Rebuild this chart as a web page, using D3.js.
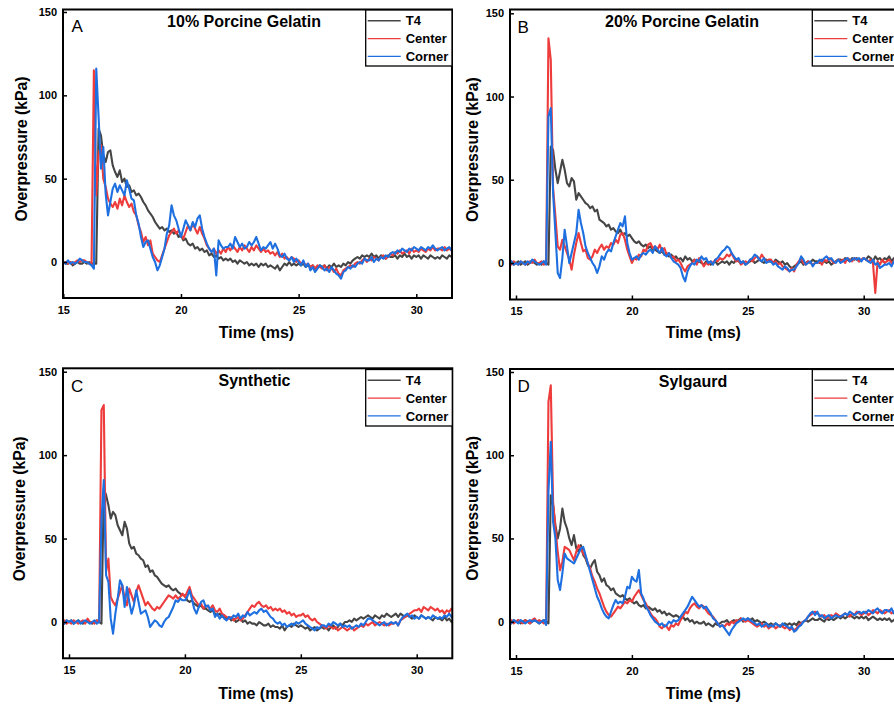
<!DOCTYPE html>
<html><head><meta charset="utf-8">
<script src="https://cdn.jsdelivr.net/npm/d3@7"></script>
<style>
body{margin:0;background:#fff}
svg{display:block}
text{font-family:"Liberation Sans",Arial,Helvetica,sans-serif}
</style>
</head><body>
<svg id="chart" width="894" height="705"></svg>
<script>
// time grid: t = tStart + i*tStep (ms)
const tStart = 14.7, tStep = 0.1;
const seriesNames = ["T4", "Center", "Corner"];
const xTickValues = [15, 20, 25, 30];
const yTickValues = [0, 50, 100, 150];

// Panel A: 10% Porcine Gelatin
const aT4 = [-1,0,-1,
0,-1,-1,0,-2,-1,0,-1,-1,0,
-1,0,-1,-1,-1,80,76,64,60,66,
67,58,54,51,55,48,50,45,46,42,
43,40,41,39,36,34,31,29,27,24,
22,20,21,19,20,18,19,17,18,15,
16,13,14,11,10,11,8,9,7,8,
6,7,4,5,3,4,2,3,1,2,
1,2,0,1,-1,1,0,-1,0,-2,
-1,-2,-1,-3,-1,-2,-1,-3,-2,-3,
-4,-2,-5,-3,-1,-2,0,-2,-1,-2,
-1,-2,-1,-3,-2,-3,-2,-4,-3,-2,
-3,-2,-4,-2,-3,-1,-3,-2,-3,-1,
-2,0,-1,1,2,3,2,4,3,4,
3,5,3,4,2,4,3,2,4,3,
3,4,2,4,3,5,3,4,2,4,
3,4,2,4,3,2,4,3,2,3,
2,4,3,2,4,3,3];
const aCenter = [0,-1,0,
-1,0,-1,0,-1,0,1,0,1,1,
0,-1,-1,115,40,65,70,50,45,38,
35,33,36,32,38,34,40,36,33,35,
30,28,22,18,12,15,10,13,5,3,
1,0,4,8,12,16,18,20,17,19,
16,14,18,22,19,23,20,17,21,17,
14,10,8,6,8,5,7,5,8,6,
9,7,10,8,6,9,7,10,8,6,
9,7,10,8,6,8,6,7,5,6,
4,6,3,5,2,3,1,3,2,0,
1,-1,0,-2,-1,-3,-2,-4,-2,-3,
-4,-2,-5,-3,-4,-6,-4,-7,-8,-5,
-4,-3,-2,-3,-1,0,-1,1,2,0,
2,1,3,2,1,3,4,2,3,5,
4,6,5,7,5,6,7,5,8,6,
7,6,8,7,6,8,7,9,7,8,
8,7,9,7,8,7,6];
const aCorner = [1,-1,0,
0,-1,1,-1,0,-1,0,2,1,0,
0,-1,-2,-4,116,87,56,69,41,28,
36,44,47,42,46,43,40,49,44,38,
37,28,23,15,9,12,13,8,3,0,
-5,-2,3,8,17,22,34,28,25,20,
15,20,25,22,19,24,21,26,28,20,
15,11,8,6,8,-8,13,10,8,9,
9,11,8,15,12,9,11,8,9,12,
10,12,15,11,7,9,8,10,12,8,
11,8,4,3,5,2,1,3,0,2,
0,-2,1,-3,-1,-5,-3,-6,-4,-2,
-3,-5,-4,-6,-3,-5,-7,-8,-10,-6,
-5,-3,-4,-2,-3,-1,0,-1,2,1,
1,3,0,2,1,3,2,4,3,5,
6,5,7,6,8,7,6,8,7,9,
8,7,9,8,7,9,8,10,8,7,
8,9,7,8,9,7,8];

// Panel B: 20% Porcine Gelatin
const bT4 = [0,1,-1,
0,1,-1,0,1,-1,0,1,0,-1,
0,-1,1,0,-1,70,68,56,48,55,
62,56,48,46,51,49,38,42,40,38,
36,35,33,34,31,32,26,25,24,22,
23,20,21,19,18,20,17,18,16,17,
15,13,12,13,11,10,11,9,10,8,
8,7,6,7,5,6,4,5,3,4,
2,3,1,4,2,3,1,2,0,1,
0,-1,1,0,-1,0,1,-1,0,1,
0,1,-1,1,0,2,1,0,1,-1,
0,1,2,0,1,2,1,0,2,1,
1,0,2,1,0,1,-1,0,-2,-3,
-2,-1,0,1,-1,0,1,0,2,1,
1,0,2,1,0,1,-1,0,1,2,
2,1,3,2,1,3,2,3,1,2,
3,2,4,3,1,4,2,3,1,3,
2,4,1,3,2,2,3];
const bCenter = [0,-1,1,
0,-1,1,0,-1,0,1,0,2,0,
0,1,-1,0,135,122,45,28,10,8,
14,10,6,2,-4,5,12,18,12,7,
8,3,2,4,8,6,9,11,8,10,
9,12,11,14,12,17,18,14,8,4,
0,3,2,5,4,8,7,11,12,9,
10,8,11,7,9,5,6,3,4,1,
2,0,-3,-5,-2,-1,0,2,-1,3,
1,-2,0,-1,1,0,2,1,3,2,
3,5,4,6,3,1,2,-1,0,1,
0,2,1,3,4,2,5,3,1,2,
2,0,1,-1,0,-2,-3,-4,-5,-3,
-5,-1,1,3,0,-1,1,0,-1,0,
0,1,-1,2,1,3,2,0,1,2,
1,2,0,3,2,1,3,2,1,2,
3,2,1,2,0,-18,1,-1,2,0,
1,2,0,1,3,2,1];
const bCorner = [0,1,-1,
0,-1,1,0,-1,1,0,2,1,0,
-1,0,1,-1,88,93,42,18,-6,-9,
3,20,10,0,6,12,18,32,24,18,
10,6,3,0,-2,-6,-2,4,2,6,
8,7,12,16,20,24,22,28,12,6,
2,3,4,2,5,6,5,7,8,6,
10,8,6,9,5,4,6,3,1,0,
-1,-3,-8,-11,-5,-2,0,-1,2,1,
4,2,3,0,1,-1,2,3,5,7,
8,10,9,6,4,2,3,0,1,-1,
0,2,3,5,4,2,1,3,0,1,
1,-1,0,-2,-3,-4,-2,-3,-5,-4,
-4,-2,0,4,2,-1,0,1,-2,0,
0,2,1,3,4,2,3,1,0,2,
0,1,2,3,1,2,3,2,3,1,
3,2,1,0,2,-1,0,-3,-2,-1,
-1,0,-2,1,0,-1,0];

// Panel C: Synthetic
const cT4 = [0,-1,1,
0,1,-1,0,1,0,-1,0,1,0,
-1,0,1,0,-1,80,76,70,62,66,
64,58,55,52,60,56,47,44,45,41,
40,38,37,33,34,30,31,28,27,25,
23,22,21,22,20,19,20,18,17,16,
16,13,12,13,11,10,9,10,8,8,
7,6,7,5,4,5,3,4,2,3,
1,2,0,1,2,0,1,-1,0,-1,
-1,-2,0,-1,-2,-2,-1,-3,-2,-3,
-3,-4,-2,-5,-3,-2,-3,-1,-2,-3,
-2,-3,-4,-3,-5,-4,-3,-5,-4,-3,
-4,-3,-5,-3,-2,-4,-3,-1,-2,0,
0,1,0,2,1,2,3,2,3,4,
3,2,4,3,2,4,3,5,4,3,
4,5,3,5,4,3,4,3,2,4,
3,2,4,3,2,3,2,1,3,2,
2,1,3,1,2,0,1];
const cCenter = [0,1,-1,
0,-1,1,0,-1,0,1,-1,2,0,
0,-1,1,0,127,130,30,38,15,12,
10,14,18,22,14,10,20,16,12,18,
22,18,14,10,12,10,8,7,9,8,
10,12,14,16,15,14,16,14,15,17,
15,18,21,16,14,12,10,11,8,10,
9,8,10,7,6,8,5,4,3,2,
3,1,2,3,1,2,4,6,8,10,
9,11,12,10,9,10,8,9,7,8,
7,8,6,7,5,6,4,5,3,4,
4,5,3,4,2,1,2,0,-1,-2,
-3,-4,-2,-3,-4,-3,-5,-4,-3,-4,
-5,-4,-3,-5,-4,-3,-2,-3,-1,-2,
-1,0,-2,-1,0,-1,-2,-1,-2,-1,
-1,0,-2,1,2,3,4,5,6,7,
7,8,6,9,8,7,9,8,7,8,
6,7,5,7,6,8,7];
const cCorner = [0,-1,1,
0,1,-1,0,1,-1,0,1,0,-1,
0,1,-1,0,60,85,28,24,2,-7,
5,14,25,22,9,21,12,5,10,19,
12,5,6,7,3,-3,-1,1,0,-2,
-3,0,2,3,6,9,13,12,14,13,
13,15,19,14,8,5,9,12,13,9,
10,7,8,3,5,2,4,2,1,3,
2,4,3,5,2,4,3,6,4,5,
6,5,7,8,6,7,5,3,2,0,
-1,0,-2,-1,-3,-2,-1,-2,0,-1,
0,1,-1,-2,-3,-4,-5,-3,-4,-2,
-2,-3,-1,-2,0,-1,-2,-1,-3,-2,
-3,-2,-4,-3,-2,-3,-1,-2,0,2,
2,1,0,-1,-2,-1,0,-2,-1,0,
-1,0,-2,1,3,4,5,3,4,2,
3,2,4,3,2,3,2,4,3,2,
3,2,4,3,5,3,4];

// Panel D: Sylgaurd
const dT4 = [0,-1,1,
0,1,-1,0,1,0,-1,0,1,0,
-1,0,1,0,-1,76,70,58,50,56,
68,60,56,50,46,52,44,42,46,40,
38,34,32,35,37,30,28,24,26,22,
21,19,20,17,16,15,16,14,13,14,
12,11,12,10,9,10,8,9,8,7,
8,6,7,5,6,4,5,4,3,4,
3,2,3,1,2,0,1,-1,0,-1,
-1,0,-2,-1,-2,-3,-1,-2,-1,0,
0,1,-1,0,1,0,1,2,0,1,
2,1,2,0,1,0,-1,0,-1,-2,
-1,-2,-1,-2,-3,-2,-1,-2,-1,-2,
-1,-2,0,-1,0,1,0,1,2,1,
1,2,1,0,2,1,2,1,2,3,
2,3,2,3,4,3,2,3,2,3,
2,3,1,2,3,2,1,2,1,2,
1,2,0,1,2,1,1];
const dCenter = [0,1,-1,
0,1,0,-1,1,0,-1,1,2,0,
1,0,-1,0,132,142,72,56,42,31,
36,45,44,43,40,37,42,46,44,41,
39,35,32,27,24,20,17,13,9,6,
4,3,5,7,9,8,10,12,11,13,
12,15,17,19,16,13,11,8,5,3,
2,0,-3,-4,-2,-3,-5,-2,-3,-1,
-2,1,3,6,5,8,10,11,9,8,
10,9,7,5,4,3,1,-1,-3,-2,
-3,-1,-2,0,-1,1,0,2,1,0,
1,0,-1,-2,-3,-2,-1,-3,-2,-4,
-3,-2,-4,-3,-2,-3,-4,-3,-5,-4,
-5,-4,-2,-1,0,1,3,4,5,6,
5,4,3,4,2,3,4,3,5,4,
3,4,5,4,3,5,4,6,5,4,
5,6,4,5,7,6,5,7,6,5,
6,7,5,6,7,5,6];
const dCorner = [0,-1,1,
0,-1,1,0,-1,0,1,0,1,0,
-1,0,1,-2,78,108,60,50,25,19,
29,41,38,37,36,35,38,41,44,45,
40,35,30,25,20,15,12,8,5,3,
2,6,10,13,11,12,11,15,21,20,
27,25,24,31,17,14,9,7,4,2,
0,-1,-2,-1,-3,-2,0,-1,1,0,
1,3,5,7,9,12,15,13,11,9,
10,8,9,7,5,2,1,-1,-3,-2,
-4,-6,-8,-5,-3,-1,0,1,2,1,
2,1,0,-1,-2,-1,-3,-2,-1,-3,
-2,-3,-1,-2,-3,-1,-2,-3,-4,-3,
-6,-5,-3,-2,0,1,3,5,6,4,
6,3,4,2,3,4,2,3,4,3,
3,4,5,4,6,5,4,5,6,5,
6,5,7,6,5,7,8,6,5,7,
7,6,8,5,7,6,6];

// ---------- layout & style (kept separate from data) ----------
const colors = ["#454545", "#ee3b3b", "#1e6fe0"];
const panels = [
  {letter:"A", title:"10% Porcine Gelatin", data:[aT4,aCenter,aCorner],
   l:63, r:452, t:9.5, b:298, px15:63.3, px30:416.3, py0:262, py150:12,
   titleX:244, titleY:26.5, letterX:71.5, letterY:32.3,
   yTitleX:26.5, yTitleY:149, xTitleX:256.5, xTitleY:338,
   legL:365.7, legT:10, legB:66},
  {letter:"B", title:"20% Porcine Gelatin", data:[bT4,bCenter,bCorner],
   l:510, r:899, t:9.5, b:299.5, px15:516, px30:863.7, py0:263, py150:13.3,
   titleX:682, titleY:26.5, letterX:517.5, letterY:32.7,
   yTitleX:477.5, yTitleY:149.7, xTitleX:703.3, xTitleY:338,
   legL:812.3, legT:10, legB:66},
  {letter:"C", title:"Synthetic", data:[cT4,cCenter,cCorner],
   l:63, r:452.3, t:368.3, b:658.3, px15:69, px30:416.7, py0:622, py150:371.7,
   titleX:254.5, titleY:385.5, letterX:71, letterY:392.3,
   yTitleX:24.5, yTitleY:508.8, xTitleX:256, xTitleY:698.5,
   legL:365.7, legT:369.5, legB:426},
  {letter:"D", title:"Sylgaurd", data:[dT4,dCenter,dCorner],
   l:510, r:899, t:369, b:659, px15:516, px30:863.7, py0:621.7, py150:372,
   titleX:693, titleY:386.5, letterX:517.5, letterY:392.3,
   yTitleX:477.5, yTitleY:508.3, xTitleX:703.3, xTitleY:698.8,
   legL:812.3, legT:369.5, legB:425.7}
];

const svg = d3.select("#chart");
svg.append("rect").attr("width",894).attr("height",705).attr("fill","#fff");

panels.forEach((p, pi) => {
  const x = d3.scaleLinear().domain([15, 30]).range([p.px15, p.px30]);
  const y = d3.scaleLinear().domain([0, 150]).range([p.py0, p.py150]);
  const g = svg.append("g");
  const clipId = "clip" + pi;
  svg.append("defs").append("clipPath").attr("id", clipId)
    .append("rect").attr("x", p.l).attr("y", p.t).attr("width", p.r - p.l).attr("height", p.b - p.t);

  const line = d3.line()
    .x((d, i) => x(tStart + i * tStep))
    .y(d => y(d));

  const lg = g.append("g").attr("clip-path", `url(#${clipId})`);
  p.data.forEach((s, si) => {
    lg.append("path").datum(s)
      .attr("d", line)
      .attr("fill", "none")
      .attr("stroke", colors[si])
      .attr("stroke-width", 2.1)
      .attr("stroke-linejoin", "round");
  });

  // axes (inward ticks)
  const xAxis = d3.axisBottom(x).tickValues(xTickValues).tickFormat(d3.format("d"))
    .tickSizeInner(-4).tickSizeOuter(0).tickPadding(8);
  const yAxis = d3.axisLeft(y).tickValues(yTickValues).tickFormat(d3.format("d"))
    .tickSizeInner(-4).tickSizeOuter(0).tickPadding(6);
  const gx = g.append("g").attr("transform", `translate(0,${p.b})`).call(xAxis);
  const gy = g.append("g").attr("transform", `translate(${p.l},0)`).call(yAxis);
  [gx, gy].forEach(a => {
    a.select(".domain").remove();
    a.selectAll(".tick line").attr("stroke", "#000").attr("stroke-width", 1.5);
    a.selectAll(".tick text").attr("fill", "#000").style("font-size", "11px").style("font-weight", "bold");
  });

  // frame
  g.append("rect").attr("x", p.l).attr("y", p.t).attr("width", p.r - p.l).attr("height", p.b - p.t)
    .attr("fill", "none").attr("stroke", "#000").attr("stroke-width", 2);

  // panel title & letter
  g.append("text").attr("x", p.titleX).attr("y", p.titleY).attr("text-anchor", "middle")
    .style("font-size", "16px").style("font-weight", "bold").text(p.title);
  g.append("text").attr("x", p.letterX).attr("y", p.letterY)
    .style("font-size", "17px").text(p.letter);

  // axis titles
  g.append("text").attr("transform", `translate(${p.yTitleX},${p.yTitleY}) rotate(-90)`)
    .attr("text-anchor", "middle").style("font-size", "15.7px").style("font-weight", "bold")
    .text("Overpressure (kPa)");
  g.append("text").attr("x", p.xTitleX).attr("y", p.xTitleY).attr("text-anchor", "middle")
    .style("font-size", "16px").style("font-weight", "bold").text("Time (ms)");

  // legend
  g.append("rect").attr("x", p.legL).attr("y", p.legT).attr("width", p.r - p.legL).attr("height", p.legB - p.legT)
    .attr("fill", "#fff").attr("stroke", "#000").attr("stroke-width", 1.3);
  seriesNames.forEach((n, si) => {
    const ry = p.legT + 10.8 + si * 17.8;
    g.append("line").attr("x1", p.legL + 2).attr("x2", p.legL + 35).attr("y1", ry).attr("y2", ry)
      .attr("stroke", colors[si]).attr("stroke-width", 1.4);
    g.append("text").attr("x", p.legL + 40).attr("y", ry).attr("dy", "0.36em")
      .style("font-size", "13px").style("font-weight", "bold").text(n);
  });
});
</script>
</body></html>
